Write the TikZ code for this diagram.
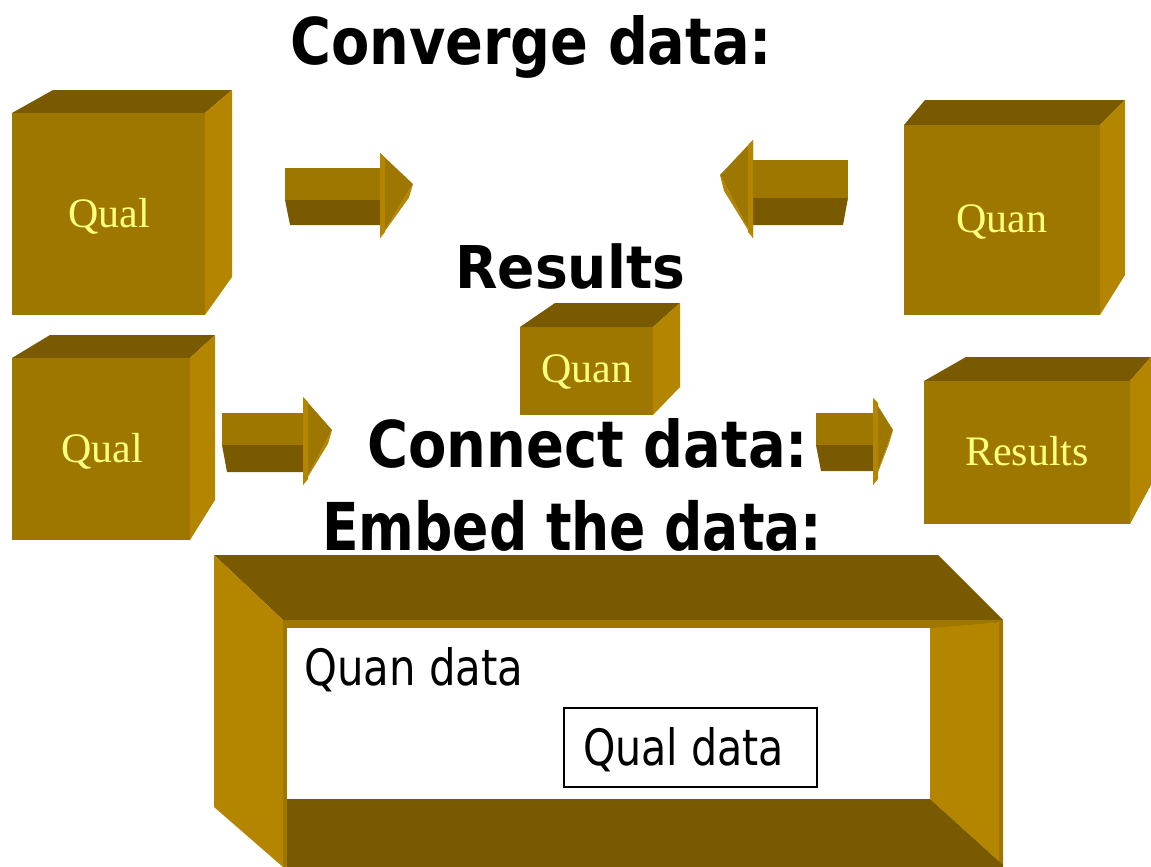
\documentclass[tikz,border=0pt]{standalone}
\usepackage{fontspec}
\usepackage{graphicx}
\setmainfont{Liberation Serif}
\newfontfamily\tah{DejaVu Sans}
\usetikzlibrary{calc}
\definecolor{cfront}{RGB}{158,119,0}
\definecolor{ctop}{RGB}{122,90,0}
\definecolor{cside}{RGB}{180,134,0}
\definecolor{clabel}{RGB}{255,255,128}
% front left x, front top y, front right x, front bottom y, back left x, back top y, back right x, back bottom y
\newcommand\mmcube[8]{%
  \fill[ctop] (#1,#2) -- (#5,#6) -- (#7,#6) -- (#3,#2) -- cycle;
  \fill[cside] (#3,#2) -- (#7,#6) -- (#7,#8) -- (#3,#4) -- cycle;
  \fill[cfront] (#1,#2) rectangle (#3,#4);
}
% shaft end x, head base x, tip x, head top y, shaft top y, shaft mid y, shaft bottom y, tip y, head bottom y
\newcommand\mmarrow[9]{%
  \pgfmathsetmacro\dd{#3>#2 ? 1 : -1}
  \fill[cfront] (#1,#5) rectangle (#2,#6);
  \fill[ctop] (#1,#6) -- (#2,#6) -- (#2,#7) -- ({#1+5*\dd},#7) -- cycle;
  \fill[cfront] (#2,#4) -- (#3,#8) -- (#2,#9) -- cycle;
  \fill[cside] (#3,#8) -- ({#3-4*\dd},{#8+0.25*(#9-#8)}) -- (#2,#9) -- cycle;
  \fill[cside] (#2,#4) -- ({#2+5*\dd},{#4+5}) -- ({#2+5*\dd},{#9-6}) -- (#2,#9) -- cycle;
}
\newcommand\fitw[2]{\resizebox{#1pt}{\height}{#2}}
\begin{document}
\begin{tikzpicture}[x=1pt,y=-1pt,
  lab/.style={text=clabel, font=\fontsize{42}{48}\selectfont, anchor=base, inner sep=0pt},
  ttl/.style={anchor=base west, inner sep=0pt, text=black},
  body/.style={anchor=base west, inner sep=0pt, text=black, font=\tah\fontsize{50}{56}\selectfont}]
\useasboundingbox (0,0) rectangle (1151,867);
\fill[white] (0,0) rectangle (1151,867);

% cubes
\mmcube{12}{113}{205}{315}{53}{90}{232}{277}
\mmcube{904}{125}{1100}{315}{925}{100}{1125}{275}
\mmcube{520}{327}{653}{415}{555}{303}{680}{387}
\mmcube{12}{358}{190}{540}{50}{335}{215}{500}
\mmcube{924}{381}{1130}{524}{966}{357}{1151}{485}

% arrows
\mmarrow{285}{380}{413}{153}{168}{200}{225}{184}{238}
\mmarrow{848}{753}{720}{140}{160}{198}{225}{175}{238}
\mmarrow{222}{303}{332}{397}{413}{445}{472}{430}{485}
\mmarrow{816}{873}{893}{398}{413}{445}{471}{430}{485}

% cube labels
\node[lab] (l1) at (109,227) {Qual};
\node[lab] (l2) at (1002,232) {Quan};
\node[lab] (l3) at (587,382) {Quan};
\node[lab] (l4) at (102,462) {Qual};
\node[lab] (l5) at (1027,465) {Results};

% embedding frame
\fill[ctop] (214,555) -- (938,555) -- (1003,620) -- (283,620) -- cycle;
\fill[cfront] (283,620) rectangle (1003,628);
\fill[cside] (214,555) -- (283,620) -- (283,867) -- (214,807) -- cycle;
\fill[cfront] (283,620) rectangle (287,867);
\fill[cside] (930,628) -- (1003,622) -- (1003,865) -- (930,799) -- cycle;
\fill[cfront] (999,622) rectangle (1003,865);
\fill[ctop] (287,799) -- (930,799) -- (1003,865) -- (1003,867) -- (287,867) -- cycle;
\fill[white] (287,628) rectangle (930,799);

\node[body] (qn) at (304,685) {\fitw{219}{Quan data}};
\node[draw=black, line width=1.5pt, minimum width=253pt, minimum height=79pt, anchor=north west, inner sep=0pt] (qbox) at (563,707) {};
\node[body] (ql) at (583,765) {\fitw{201}{Qual data}};

% titles
\node[ttl, font=\tah\bfseries\fontsize{64.5}{70}\selectfont] (t1) at (290,65) {\fitw{482}{Converge data:}};
\node[ttl, font=\tah\bfseries\fontsize{59}{65}\selectfont] (t2) at (455,288) {\fitw{230}{Results}};
\node[ttl, font=\tah\bfseries\fontsize{64.5}{70}\selectfont] (t3) at (367,467) {\fitw{441}{Connect data:}};
\node[ttl, font=\tah\bfseries\fontsize{66}{72}\selectfont] (t4) at (322,550) {\fitw{500}{Embed the data:}};
\end{tikzpicture}
\end{document}
